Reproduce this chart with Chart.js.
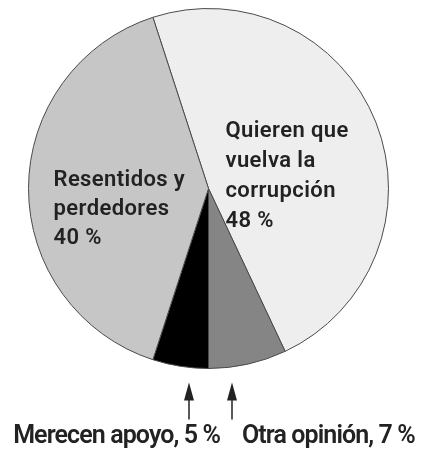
<!DOCTYPE html>
<html>
<head>
<meta charset="utf-8">
<script src="https://cdn.jsdelivr.net/npm/chart.js@4.4.1/dist/chart.umd.min.js"></script>
<style>
  html, body { margin: 0; padding: 0; background: #fff; }
  #wrap { width: 421px; height: 452px; position: relative; }
</style>
</head>
<body>
<div id="wrap"><canvas id="pieChart"></canvas></div>
<script>
'use strict';

// slices, clockwise from the upper dividing line
var categories = ['Quieren que vuelva la corrupción', 'Otra opinión', 'Merecen apoyo', 'Resentidos y perdedores'];
var values = [48, 7, 5, 40];
var sliceColors = ['#eeeeee', '#858585', '#000000', '#c6c6c6'];

var INK = '#222222';

function pct(i) {
    return values[i] + ' %';
}

// text inside the two big slices and the arrows under the small ones
var pieText = {
    id: 'pieText',
    afterDatasetsDraw: function (chart) {
        var ctx = chart.ctx;
        var arc = chart.getDatasetMeta(0).data[0];
        var cx = arc.x, cy = arc.y, r = arc.outerRadius;

        ctx.save();
        ctx.fillStyle = INK;
        ctx.font = '600 22px Roboto';
        ctx.letterSpacing = '0.4px';
        ctx.textAlign = 'left';
        ctx.textBaseline = 'alphabetic';

        var right = ['Quieren que', 'vuelva la', 'corrupción', pct(0)];
        right.forEach(function (t, k) {
            ctx.fillText(t, cx + 17, cy - 51.5 + k * 30);
        });

        var left = ['Resentidos y', 'perdedores', pct(3)];
        left.forEach(function (t, k) {
            ctx.fillText(t, cx - 155, cy - 2.5 + k * 28.8);
        });

        // arrows pointing up at the two thin slices
        var bottom = cy + r;
        var arrows = [cx - 19.5, cx + 23.5];
        ctx.strokeStyle = INK;
        ctx.lineWidth = 1.5;
        arrows.forEach(function (x) {
            ctx.beginPath();
            ctx.moveTo(x, bottom + 51);
            ctx.lineTo(x, bottom + 28);
            ctx.stroke();
            ctx.beginPath();
            ctx.moveTo(x, bottom + 14);
            ctx.lineTo(x - 5, bottom + 32);
            ctx.lineTo(x + 5, bottom + 32);
            ctx.closePath();
            ctx.fill();
        });

        ctx.font = '600 25px Roboto';
        ctx.letterSpacing = '-0.9px';
        ctx.textAlign = 'right';
        ctx.fillText(categories[2] + ', ' + pct(2), cx + 11.5, bottom + 74);
        ctx.textAlign = 'left';
        ctx.fillText(categories[1] + ', ' + pct(1), cx + 33.5, bottom + 74);
        ctx.restore();
    }
};

var PIECHART = document.getElementById('pieChart');

var pieChart = new Chart(PIECHART, {
    type: 'pie',
    data: {
        labels: categories,
        datasets: [{
            data: values,
            backgroundColor: sliceColors,
            borderColor: '#4a4a4a',
            borderWidth: 1
        }]
    },
    options: {
        responsive: true,
        maintainAspectRatio: false,
        animation: false,
        rotation: -18,
        layout: {
            padding: { top: 5, bottom: 80, left: 28, right: 32 }
        },
        plugins: {
            legend: { display: false },
            tooltip: { enabled: false }
        }
    },
    plugins: [pieText]
});
</script>
</body>
</html>
